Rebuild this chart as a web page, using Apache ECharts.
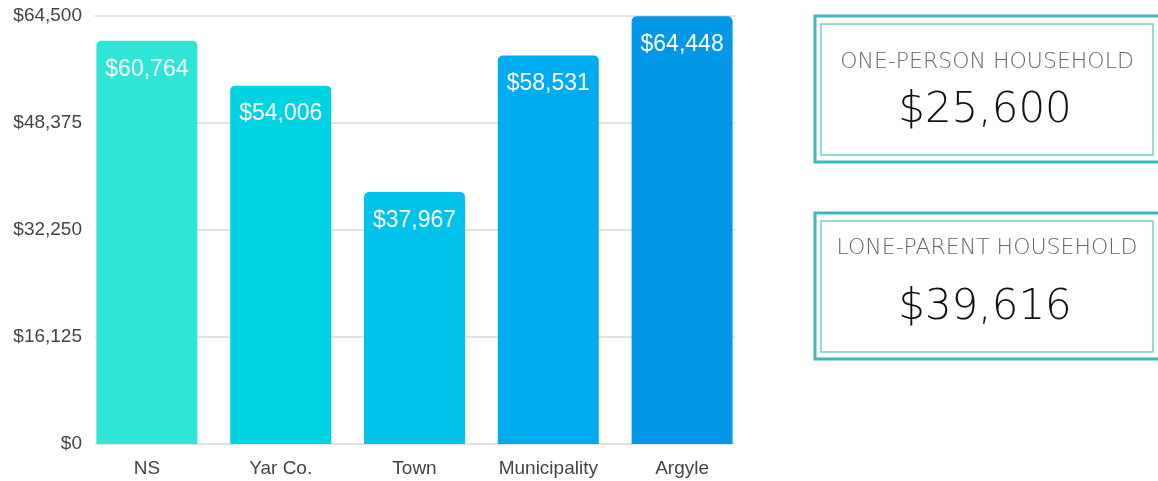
<!DOCTYPE html>
<html>
<head>
<meta charset="utf-8">
<script src="https://cdn.jsdelivr.net/npm/echarts@6/dist/echarts.min.js"></script>
<style>
  html, body { margin: 0; padding: 0; background: #fff; }
  #income_chart { width: 1158px; height: 481px; }
</style>
</head>
<body>
<div id="income_chart"></div>
<script>
var categories = ["NS", "Yar Co.", "Town", "Municipality", "Argyle"];
var incomes = [60764, 54006, 37967, 58531, 64448];
var barColors = ["#2ee6d6", "#00d4e3", "#00c2eb", "#00acf0", "#0397e8"];
var yTicks = [0, 16125, 32250, 48375, 64500];
var boxTitles = ["ONE-PERSON HOUSEHOLD", "LONE-PARENT HOUSEHOLD"];
var boxValues = ["$25,600", "$39,616"];

var yMax = yTicks[yTicks.length - 1];
var yStep = yTicks[1] - yTicks[0];

function money(v) {
  return "$" + v.toLocaleString("en-US");
}

var chart = echarts.init(document.getElementById("income_chart"));

// boxes on the right
var graphics = [];
var boxTops = [16, 213];
var titleOffsets = [46, 35];
boxTops.forEach(function (top, i) {
  graphics.push({
    type: "rect",
    shape: { x: 815, y: top, width: 360, height: 146 },
    style: { fill: "#fff", stroke: "#3fb8b8", lineWidth: 3 }
  });
  graphics.push({
    type: "rect",
    shape: { x: 821, y: top + 8, width: 332, height: 131 },
    style: { fill: "none", stroke: "#72d0d0", lineWidth: 1.5 }
  });
  graphics.push({
    type: "text",
    x: 987, y: top + titleOffsets[i],
    style: {
      text: boxTitles[i],
      fill: "#666",
      font: "300 22px 'DejaVu Sans'",
      align: "center", verticalAlign: "middle"
    }
  });
  graphics.push({
    type: "text",
    x: 985, y: top + 95,
    style: {
      text: boxValues[i],
      fill: "#111",
      font: "200 42px 'DejaVu Sans'",
      align: "center", verticalAlign: "middle"
    }
  });
});

var option = {
  animation: false,
  textStyle: { fontFamily: "'Liberation Sans', Arial, sans-serif" },
  grid: [
    { left: 95, right: 423, top: 16, bottom: 37 }, // gridlines + y labels
    { left: 80, right: 409, top: 16, bottom: 37 }  // bars
  ],
  xAxis: [
    {
      gridIndex: 0, type: "category", data: categories, show: false
    },
    {
      gridIndex: 1, type: "category", data: categories,
      axisLine: { show: false },
      axisTick: { show: false },
      axisLabel: { color: "#444", fontSize: 19, margin: 15 }
    }
  ],
  yAxis: [
    {
      gridIndex: 0, type: "value", min: 0, max: yMax, interval: yStep,
      axisLine: { show: false },
      axisTick: { show: false },
      axisLabel: { color: "#444", fontSize: 19, margin: 13, formatter: money },
      splitLine: { lineStyle: { color: "#d9d9d9", width: 1.5 } }
    },
    {
      gridIndex: 1, type: "value", min: 0, max: yMax, interval: yStep, show: false,
      splitLine: { show: false }
    }
  ],
  series: [
    {
      type: "bar",
      xAxisIndex: 1,
      yAxisIndex: 1,
      barWidth: 101,
      data: incomes.map(function (v, i) {
        return { value: v, itemStyle: { color: barColors[i], borderRadius: [5, 5, 0, 0] } };
      }),
      label: {
        show: true,
        position: "insideTop",
        distance: 17,
        color: "#fff",
        fontSize: 23,
        formatter: function (p) { return money(p.value); }
      }
    }
  ],
  graphic: graphics
};

chart.setOption(option);
</script>
</body>
</html>
